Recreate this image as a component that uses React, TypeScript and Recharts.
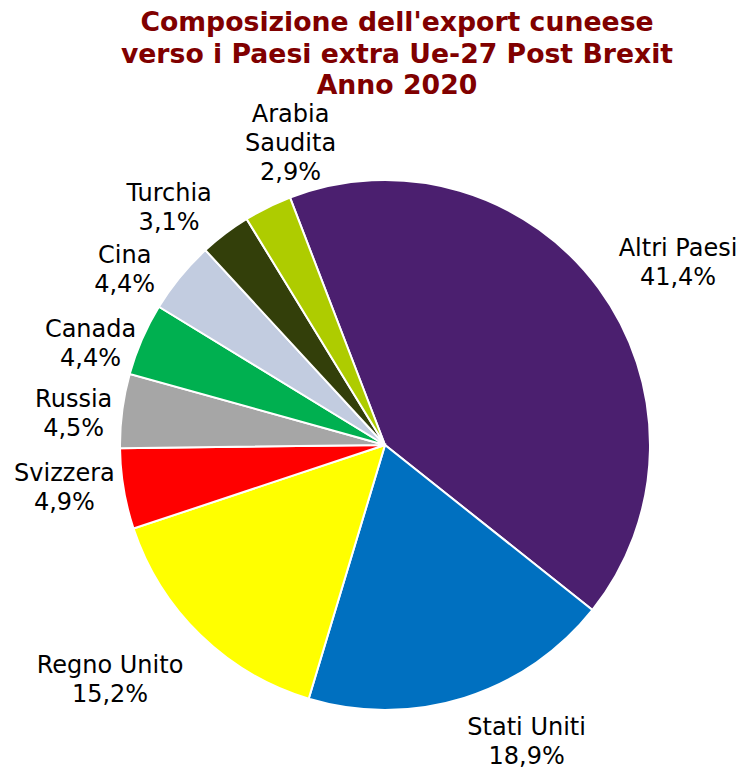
import React from 'react';
import { PieChart, Pie, Cell } from 'recharts';

const countries = ['Altri Paesi', 'Stati Uniti', 'Regno Unito', 'Svizzera', 'Russia', 'Canada', 'Cina', 'Turchia', 'Arabia Saudita'];
const shares = [41.4, 18.9, 15.2, 4.9, 4.5, 4.4, 4.4, 3.1, 2.9];
const labelLines = [['Altri Paesi'], ['Stati Uniti'], ['Regno Unito'], ['Svizzera'], ['Russia'], ['Canada'], ['Cina'], ['Turchia'], ['Arabia', 'Saudita']];
const colors = ['#4B1F6F', '#0070C0', '#FFFF00', '#FF0000', '#A6A6A6', '#00B050', '#C2CCE0', '#333F0A', '#AECC00'];
const titleLines = ["Composizione dell'export cuneese", 'verso i Paesi extra Ue-27 Post Brexit', 'Anno 2020'];

// label placement tweaks (px), Excel-like best-fit placement
const labelNudge: [number, number][] = [
  [35, 7], [46, -9], [-52, 5], [-5, -11], [6, 10], [-1, 26], [-13, 28], [-23, 18], [47, -15],
];

const data = countries.map((name, i) => ({ name, value: shares[i] }));

const fmt = (v: number) => v.toFixed(1).replace('.', ',') + '%';

const RAD = Math.PI / 180;
const LABEL_R = 320;
const LH = 29;
const LABEL_FONT = 24;

const renderLabel = (props: any) => {
  const { cx, cy, midAngle, index } = props;
  const x = cx + LABEL_R * Math.cos(-midAngle * RAD) + labelNudge[index][0];
  const y = cy + LABEL_R * Math.sin(-midAngle * RAD) + labelNudge[index][1];
  const lines = [...labelLines[index], fmt(shares[index])];
  const y0 = y - ((lines.length - 1) * LH) / 2;
  return (
    <text
      key={`lbl-${index}`}
      x={x}
      y={y0}
      textAnchor="middle"
      fill="#000000"
      style={{ fontFamily: 'DejaVu Sans, Verdana, sans-serif', fontSize: LABEL_FONT }}
    >
      {lines.map((l, k) => (
        <tspan key={k} x={x} y={y0 + k * LH} dominantBaseline="central" style={{ fontSize: LABEL_FONT }}>
          {l}
        </tspan>
      ))}
    </text>
  );
};

export default function App() {
  return (
    <div style={{ position: 'absolute', left: 0, top: 0, width: 742, height: 769, background: '#fff' }}>
      <div
        style={{
          position: 'absolute',
          left: 0,
          top: 6,
          width: 794,
          textAlign: 'center',
          fontFamily: 'DejaVu Sans, Verdana, sans-serif',
          fontWeight: 'bold',
          fontSize: 26.7,
          lineHeight: '31.5px',
          color: '#800000',
        }}
      >
        {titleLines.map((t, i) => (
          <div key={i} style={{ whiteSpace: 'nowrap' }}>{t}</div>
        ))}
      </div>
      <div style={{ position: 'absolute', left: 0, top: 0 }}>
        <PieChart width={742} height={769} margin={{ top: 0, right: 0, bottom: 0, left: 0 }}>
          <Pie
            data={data}
            dataKey="value"
            nameKey="name"
            cx={385}
            cy={445}
            outerRadius={265}
            startAngle={111}
            endAngle={-249}
            stroke="#FFFFFF"
            strokeWidth={2}
            label={renderLabel}
            labelLine={false}
            isAnimationActive={false}
          >
            {data.map((d, i) => (
              <Cell key={d.name} fill={colors[i]} />
            ))}
          </Pie>
        </PieChart>
      </div>
    </div>
  );
}
